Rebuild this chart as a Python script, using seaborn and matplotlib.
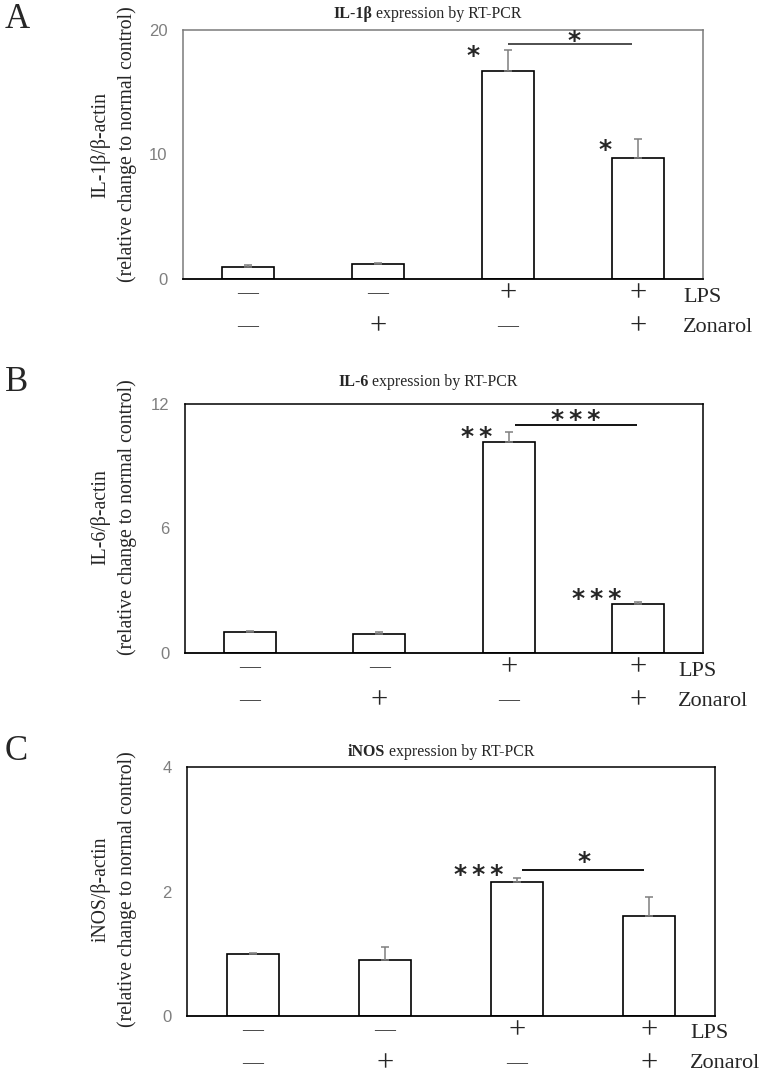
import numpy as np
import pandas as pd
import matplotlib
matplotlib.use('Agg')
import matplotlib.pyplot as plt
import matplotlib.transforms as mtransforms
import seaborn as sns

# groups and treatment signs
groups = ['g1', 'g2', 'g3', 'g4']
lps_signs = ['—', '—', '+', '+']
zon_signs = ['—', '+', '—', '+']

# IL-1b
il1b_mean = [1.0, 1.2, 16.7, 9.7]
il1b_err = [0.1, 0.1, 1.7, 1.55]
# IL-6
il6_mean = [1.0, 0.9, 10.15, 2.35]
il6_err = [0.05, 0.13, 0.5, 0.12]
# iNOS
inos_mean = [1.0, 0.9, 2.15, 1.6]
inos_err = [0.02, 0.21, 0.06, 0.31]

W, H = 760, 1078
sns.set_style('white')
plt.rcParams['font.family'] = ['Liberation Serif', 'DejaVu Serif']

fig = plt.figure(figsize=(W / 100, H / 100), dpi=100)

TS = '\u2009'  # thin space between stars


def px_axes(left, top, right, bottom):
    return fig.add_axes([left / W, 1 - bottom / H, (right - left) / W, (bottom - top) / H])


panels = [
    dict(letter='A', box=(183, 30, 703, 279), letter_y=20, title_y=14, title_x=333,
         gene='IL-1β', mean=il1b_mean, err=il1b_err, ymax=20, yticks=[0, 10, 20],
         ylab='IL-1β/β-actin', ylab_y=0.54, frame='#7a7a7a', line_color='#404040',
         stars=[('*', 1.73, 17.95), ('*', 2.51, 19.15), ('*', 2.75, 10.4)],
         bracket=(2.0, 2.95, 18.85), lps_dx=20),
    dict(letter='B', box=(185, 404, 703, 653), letter_y=383, title_y=382, title_x=338,
         gene='IL-6', mean=il6_mean, err=il6_err, ymax=12, yticks=[0, 6, 12],
         ylab='IL-6/β-actin', ylab_y=0.545, frame='black', line_color='black',
         stars=[(TS.join('**'), 1.75, 10.42), (TS.join('***'), 2.52, 11.25),
                (TS.join('***'), 2.68, 2.6)],
         bracket=(2.05, 2.99, 11.0), lps_dx=25),
    dict(letter='C', box=(187, 767, 715, 1016), letter_y=752, title_y=752, title_x=348,
         gene='iNOS', mean=inos_mean, err=inos_err, ymax=4, yticks=[0, 2, 4],
         ylab='iNOS/β-actin', ylab_y=0.51, frame='black', line_color='black',
         stars=[(TS.join('***'), 1.71, 2.26), ('*', 2.51, 2.47)],
         bracket=(2.04, 2.96, 2.35), lps_dx=25),
]

for p in panels:
    left, top, right, bottom = p['box']
    ax = px_axes(left, top, right, bottom)
    df = pd.DataFrame({'group': groups, 'value': p['mean']})
    sns.barplot(data=df, x='group', y='value', color='white', edgecolor='black',
                linewidth=1.2, width=0.4, errorbar=None, saturation=1, ax=ax)
    xs = np.arange(len(groups))
    ax.errorbar(xs, p['mean'], yerr=[np.zeros(len(groups)), p['err']], fmt='none',
                ecolor='#7f7f7f', elinewidth=1.1, capsize=3.2, capthick=1.1, zorder=1)
    ax.set_xlim(-0.5, 3.5)
    ax.set_ylim(0, p['ymax'])
    ax.set_yticks(p['yticks'])
    ax.set_yticklabels([str(t) for t in p['yticks']], fontsize=12, color='#7f7f7f',
                       family=['Liberation Sans', 'DejaVu Sans'])
    ax.tick_params(axis='y', length=0, pad=11)
    ax.set_xticks([])
    ax.set_xlabel('')
    for side in ['left', 'top', 'right']:
        ax.spines[side].set_color(p['frame'])
        ax.spines[side].set_linewidth(1.1)
    ax.spines['bottom'].set_color('black')
    ax.spines['bottom'].set_linewidth(1.3)

    ax.set_ylabel(p['ylab'] + '\n(relative change to normal control)', fontsize=14.2,
                  linespacing=1.48)
    ax.yaxis.set_label_coords((137 - left) / (right - left), p['ylab_y'])

    # significance
    x1, x2, yb = p['bracket']
    ax.plot([x1, x2], [yb, yb], color=p['line_color'], lw=1.3, solid_capstyle='butt')
    for s, sx, sy in p['stars']:
        ax.text(sx, sy, s, ha='center', va='center', fontsize=18, fontweight='bold',
                family=['DejaVu Sans'])

    # treatment rows under the axis
    trans = mtransforms.blended_transform_factory(ax.transData, ax.transAxes)
    hgt = bottom - top
    for i in range(len(groups)):
        for signs, dy in [(lps_signs, 15), (zon_signs, 48)]:
            s = signs[i]
            ax.text(xs[i], -dy / hgt, s, transform=trans, ha='center', va='center',
                    fontsize=15 if s == '—' else 22)
    lx = (right - p['lps_dx'] - left) / (right - left)
    ax.text(lx, -18 / hgt, 'LPS', transform=ax.transAxes, ha='left', va='center', fontsize=16)
    ax.text(lx, -48 / hgt, 'Zonarol', transform=ax.transAxes, ha='left', va='center', fontsize=16)

    # panel letter
    fig.text(5 / W, 1 - p['letter_y'] / H, p['letter'], fontsize=25, ha='left', va='center')

    # title with bold gene name
    t1 = fig.text(p['title_x'] / W, 1 - p['title_y'] / H, p['gene'], fontsize=11.5,
                  fontweight='bold', ha='left', va='center')
    ax.annotate(' expression by RT-PCR', xy=(1, 0), xycoords=t1, ha='left', va='bottom',
                fontsize=11.5, annotation_clip=False)

fig.savefig('out.png', dpi=100)
